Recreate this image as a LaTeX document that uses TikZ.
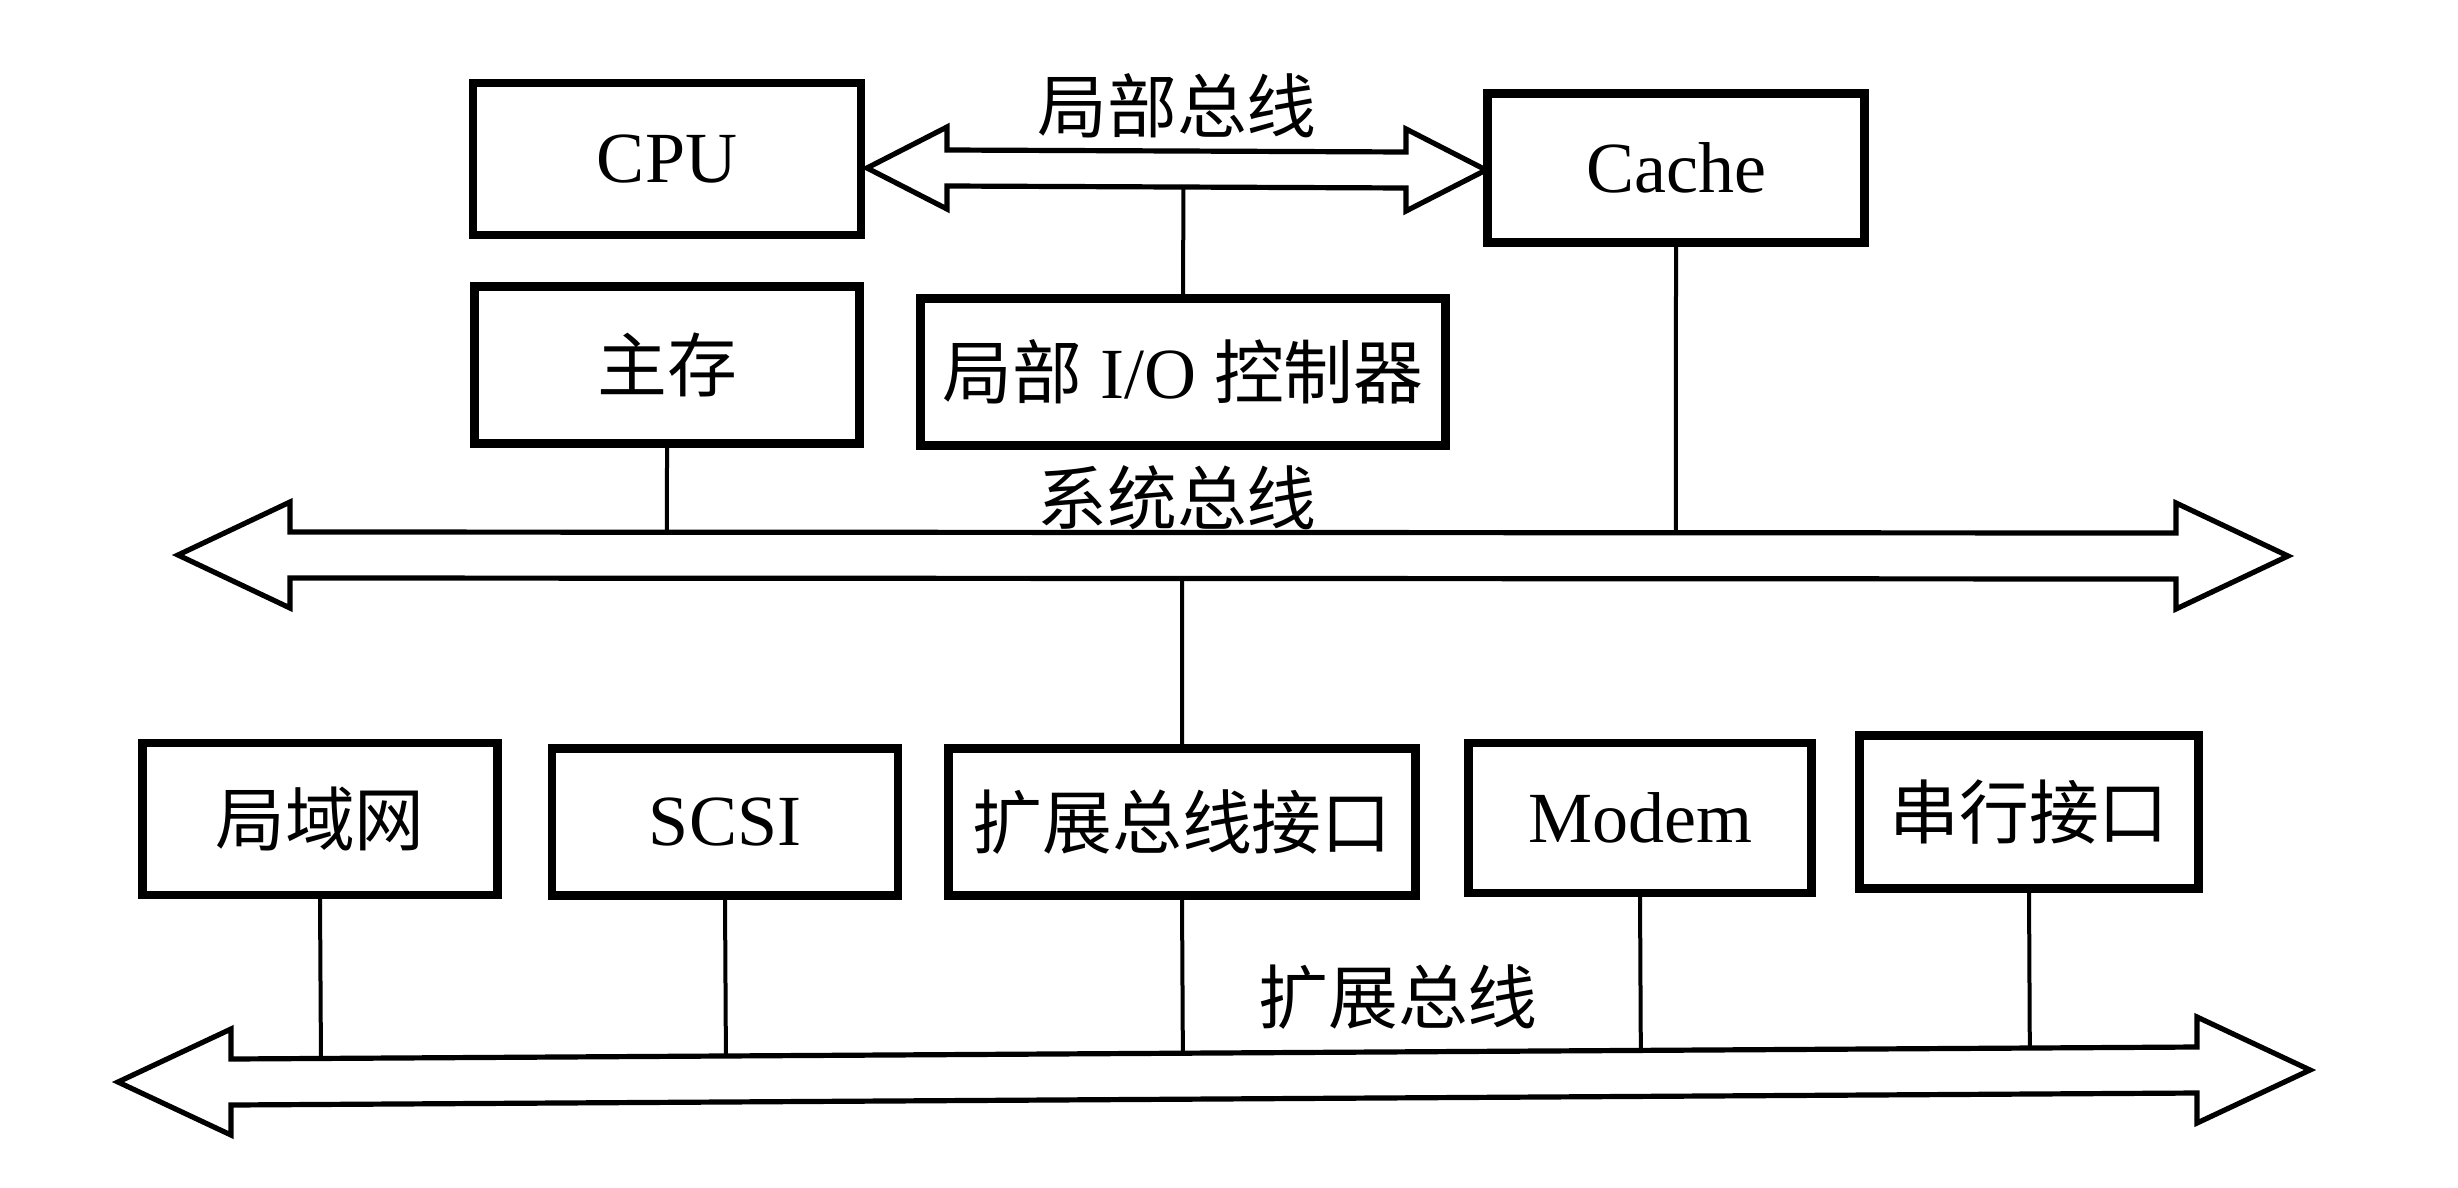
\documentclass[tikz,border=0pt]{standalone}
\usepackage{fontspec}
\setmainfont{Liberation Serif}
\newfontfamily\cjk[Scale=0.97]{Noto Sans CJK SC}
\usetikzlibrary{positioning, calc}

% one pixel of the drawing
\newdimen\pxu \pxu=0.25pt

% double headed bus: name, left x, left y, right x, right y, shaft half, head half, head length
\newcommand{\busarrow}[8]{%
	\coordinate (#1tl) at (#2+#8,#3-#6);
	\coordinate (#1tr) at (#4-#8,#5-#6);
	\coordinate (#1bl) at (#2+#8,#3+#6);
	\coordinate (#1br) at (#4-#8,#5+#6);
	\draw[busline] (#2,#3) -- (#2+#8,#3-#7) -- (#1tl) -- (#1tr) -- (#4-#8,#5-#7) -- (#4,#5)
		-- (#4-#8,#5+#7) -- (#1br) -- (#1bl) -- (#2+#8,#3+#7) -- cycle;}

\begin{document}
\begin{tikzpicture}[x=0.25pt, y=-0.25pt,
	box/.style={draw, line width=2.1pt, fill=white, inner sep=0pt, minimum height=150\pxu, font=\fontsize{18pt}{20pt}\selectfont},
	busline/.style={line width=1.3pt, line join=miter, fill=white},
	tap/.style={line width=1pt},
	buslabel/.style={font=\fontsize{18pt}{20pt}\selectfont\cjk}]
	\useasboundingbox (0,0) rectangle (2458,1187);

	% buses
	\busarrow{loc}{867}{168}{1486}{170}{18}{41}{80}
	\busarrow{sys}{178}{555}{2288}{556}{23}{53}{112}
	\busarrow{ext}{118}{1082}{2310}{1070}{23}{53}{113}

	\node[buslabel] (loclabel) at (1177,106) {局部总线};
	\node[buslabel] (syslabel) at (1177,498) {系统总线};
	\node[buslabel] (extlabel) at (1398,997) {扩展总线};

	% upper boxes
	\node[box, minimum width=388\pxu, minimum height=152\pxu] (cpu) at (667,159) {CPU};
	\node[box, minimum width=377\pxu, minimum height=149\pxu] (cache) at (1676,168) {Cache};
	\node[box, minimum width=385\pxu, minimum height=157\pxu] (mem) at (667,365) {\cjk 主存};
	\node[box, minimum width=525\pxu, minimum height=147\pxu] (lio) at (1183,372) {{\cjk 局部} I/O {\cjk 控制器}};

	% lower boxes
	\node[box, minimum width=355\pxu, minimum height=152\pxu] (lan) at (320,819) {\cjk 局域网};
	\node[box, minimum width=346\pxu, minimum height=147\pxu] (scsi) at (725,822) {SCSI};
	\node[box, minimum width=467\pxu, minimum height=147\pxu] (ebi) at (1182,822) {\cjk 扩展总线接口};
	\node[box, minimum width=343\pxu] (modem) at (1640,818) {Modem};
	\node[box, minimum width=339\pxu, minimum height=153\pxu] (serial) at (2029,812) {\cjk 串行接口};

	% taps onto the buses
	\draw[tap] (lio.north) -- ($(locbl)!(lio.north)!(locbr)$);
	\draw[tap] (mem.south) -- ($(systl)!(mem.south)!(systr)$);
	\draw[tap] (cache.south) -- ($(systl)!(cache.south)!(systr)$);
	\draw[tap] (ebi.north) -- ($(sysbl)!(ebi.north)!(sysbr)$);
	\foreach \n in {lan, scsi, ebi, modem, serial}
		\draw[tap] (\n.south) -- ($(exttl)!(\n.south)!(exttr)$);
\end{tikzpicture}
\end{document}
